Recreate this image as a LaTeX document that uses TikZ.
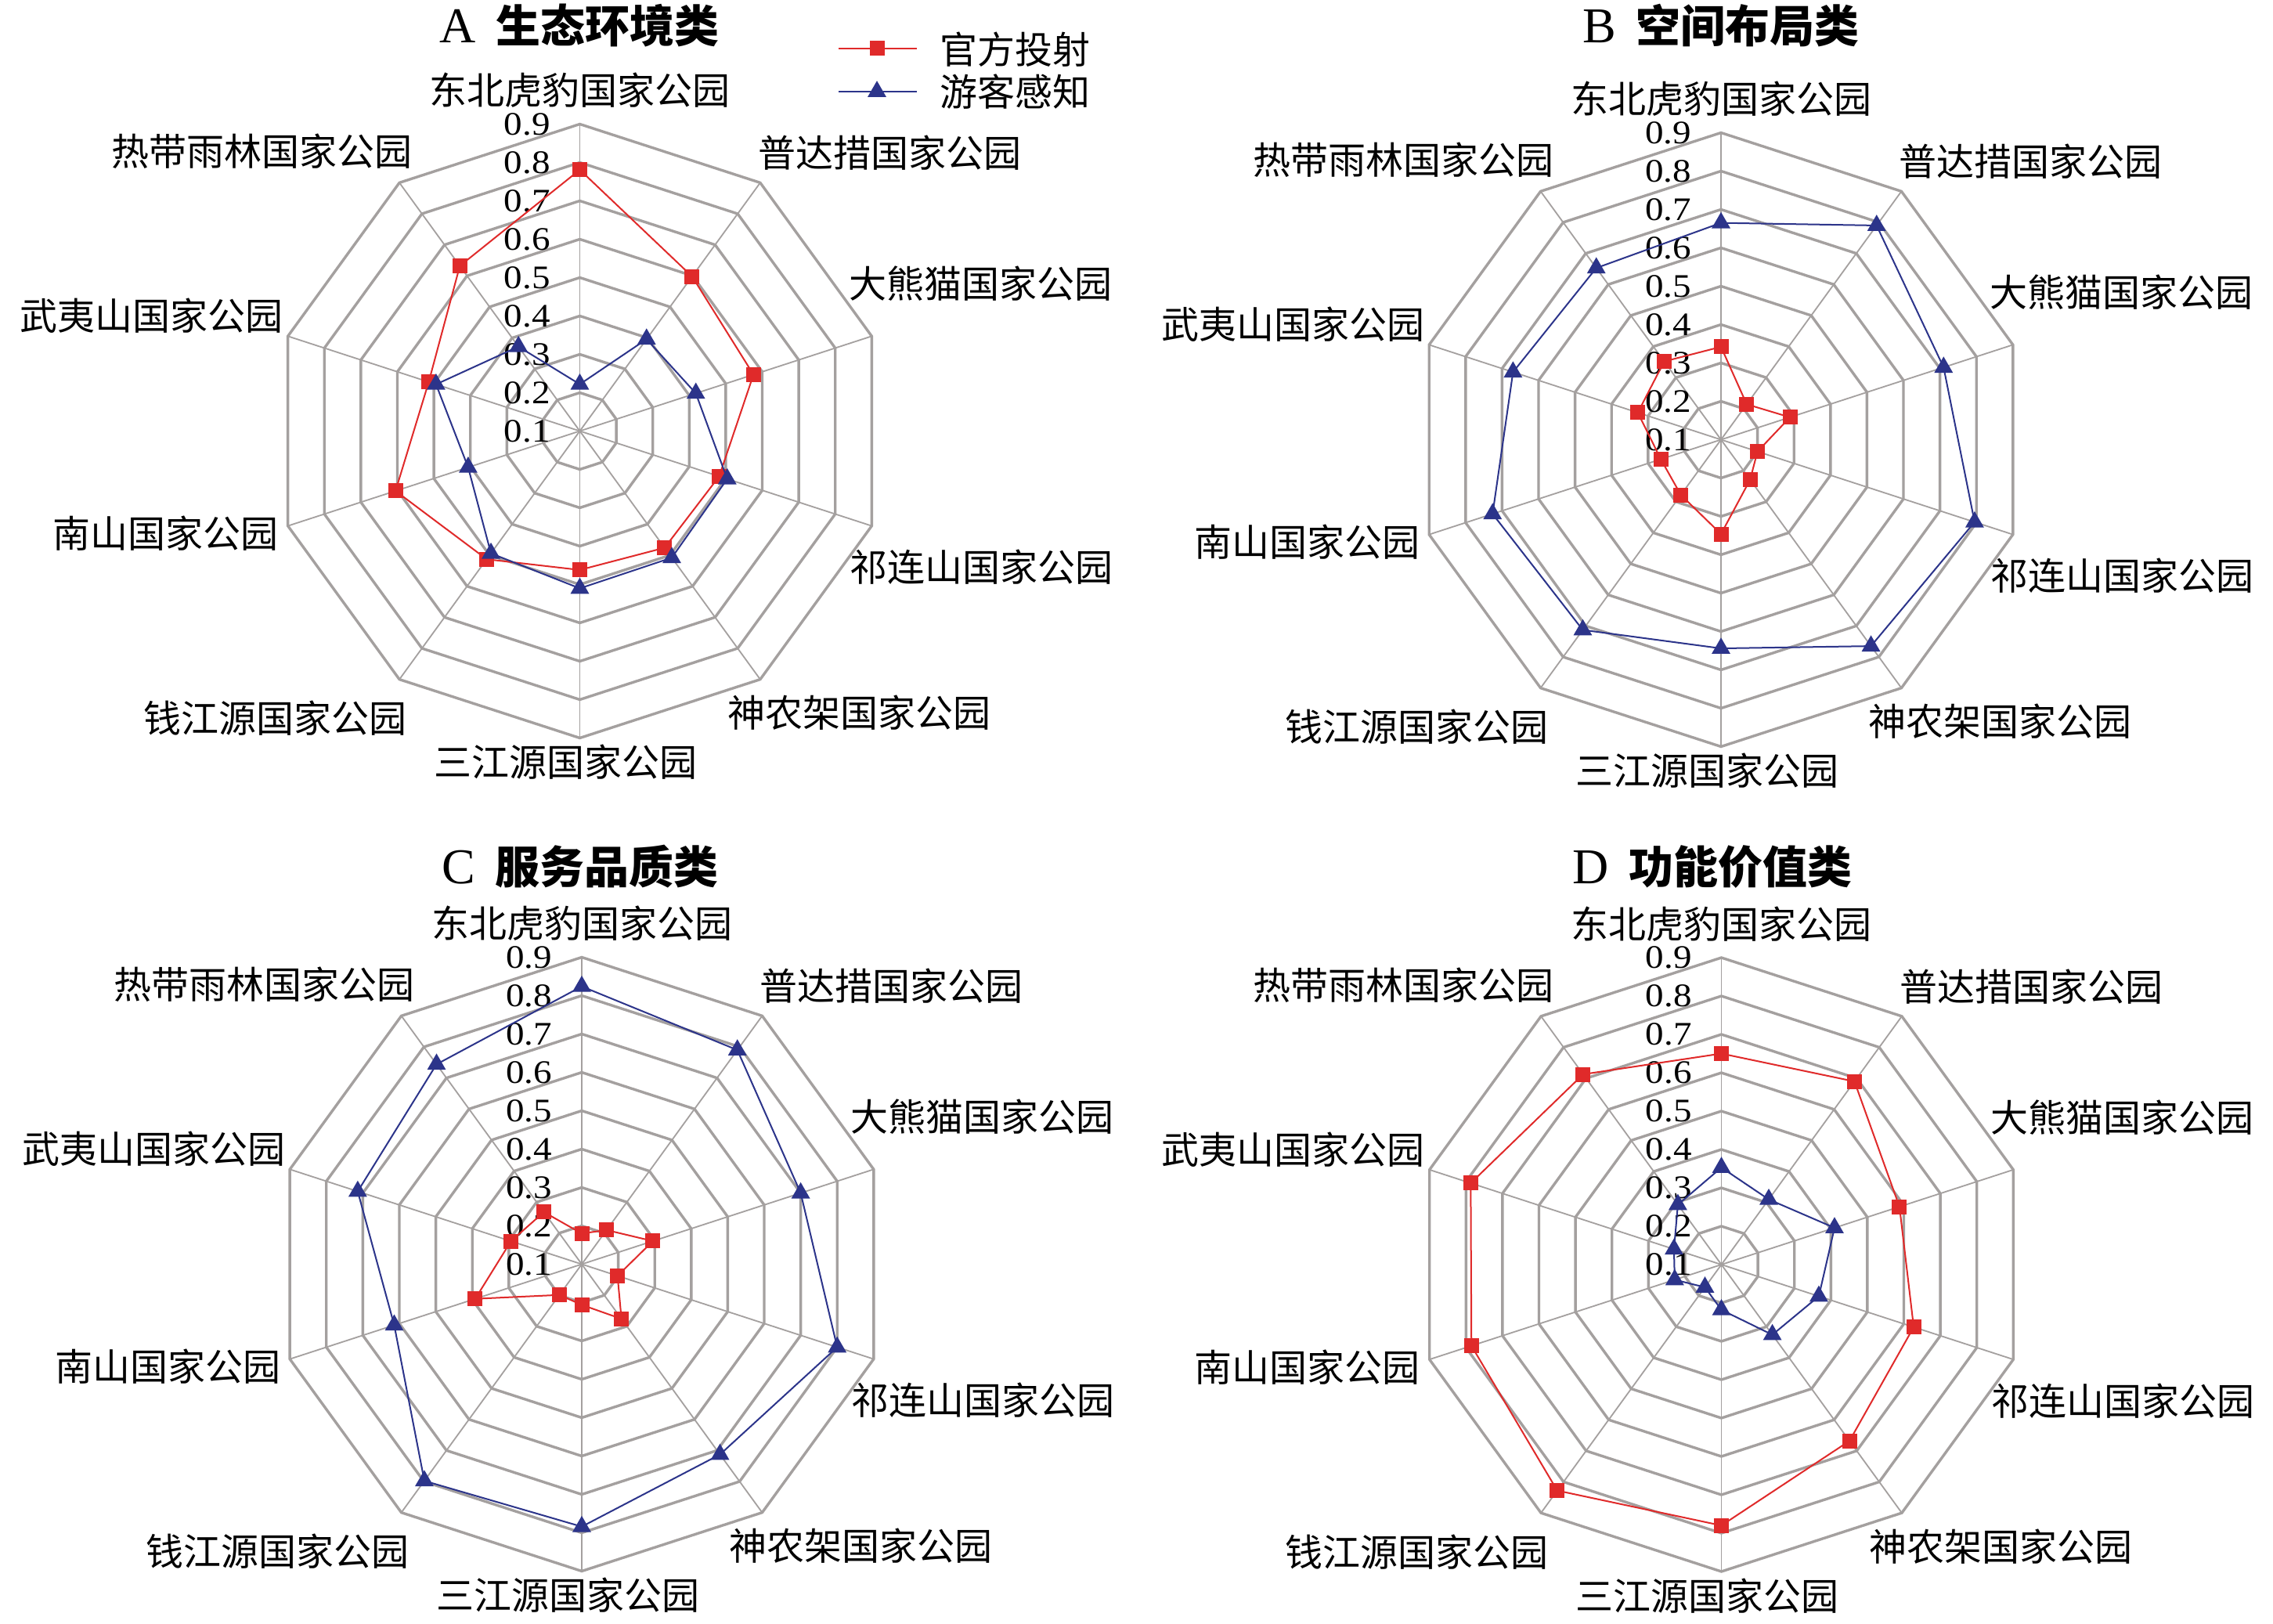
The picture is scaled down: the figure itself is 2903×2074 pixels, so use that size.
\documentclass[tikz,border=0pt]{standalone}
\usepackage{fontspec}
\setmainfont{Liberation Serif}
\newfontfamily\numfont[FakeStretch=1.12]{Liberation Serif}
\newfontfamily\cjk{Noto Sans CJK SC}
\usetikzlibrary{shapes.geometric}
\definecolor{gridgray}{RGB}{164,160,159}
\definecolor{serred}{RGB}{224,42,42}
\definecolor{serblue}{RGB}{44,52,138}
\tikzset{
  ringline/.style={draw=gridgray, line width=0.85pt, line join=miter},
  spokeline/.style={draw=gridgray, line width=0.45pt},
  redser/.style={draw=serred, line width=0.5pt},
  blueser/.style={draw=serblue, line width=0.5pt},
  sqmark/.style={rectangle, fill=serred, minimum size=4.75pt, inner sep=0pt},
  trimark/.style={regular polygon, regular polygon sides=3, fill=serblue, minimum size=6.9pt, inner sep=0pt},
  ticklab/.style={anchor=east, inner sep=0pt, font=\numfont\fontsize{10.5}{12}\selectfont},
  axlab/.style={inner sep=0pt, font=\cjk\fontsize{12}{14}\selectfont},
  titlelab/.style={inner sep=0pt},
}
\newcommand\titletext[2]{{\fontsize{16}{18}\selectfont #1}\hspace{6.5pt}{\cjk\bfseries\fontsize{14.25}{17}\selectfont #2}}
% #1 name, #2 cx, #3 cy, #4 red values, #5 blue values
\newcommand\radarchart[5]{%
  \begin{scope}[shift={(#2,#3)}]
    \foreach \k in {0,...,9} \draw[spokeline] (0,0) -- (36*\k-90:392);
    \foreach \i in {1,...,8} \draw[ringline] (-90:{49*\i}) \foreach \k in {1,...,9}{ -- (36*\k-90:{49*\i})} -- cycle;
    \foreach \i in {1,...,9} \node[ticklab] (#1t\i) at (-37,{-(\i-1)*49}) {0.\i};
    \node[axlab] (#1l0) at (0,-435) {东北虎豹国家公园};
    \node[axlab,anchor=west] (#1l1) at (227,-355) {普达措国家公园};
    \node[axlab,anchor=west] (#1l2) at (343,-188) {大熊猫国家公园};
    \node[axlab,anchor=west] (#1l3) at (344,174) {祁连山国家公园};
    \node[axlab,anchor=west] (#1l4) at (188,360) {神农架国家公园};
    \node[axlab] (#1l5) at (-18,423) {三江源国家公园};
    \node[axlab,anchor=east] (#1l6) at (-220,367) {钱江源国家公园};
    \node[axlab,anchor=east] (#1l7) at (-384,131) {南山国家公园};
    \node[axlab,anchor=east] (#1l8) at (-378,-147) {武夷山国家公园};
    \node[axlab,anchor=east] (#1l9) at (-213,-357) {热带雨林国家公园};
    \foreach \v [count=\k from 0] in {#4} \coordinate (#1r\k) at (36*\k-90:{(\v-0.1)*490});
    \foreach \v [count=\k from 0] in {#5} \coordinate (#1b\k) at (36*\k-90:{(\v-0.1)*490});
    \draw[redser] (#1r0) -- (#1r1) -- (#1r2) -- (#1r3) -- (#1r4) -- (#1r5) -- (#1r6) -- (#1r7) -- (#1r8) -- (#1r9) -- cycle;
    \foreach \k in {0,...,9} \node[sqmark] (#1rm\k) at (#1r\k) {};
    \draw[blueser] (#1b0) -- (#1b1) -- (#1b2) -- (#1b3) -- (#1b4) -- (#1b5) -- (#1b6) -- (#1b7) -- (#1b8) -- (#1b9) -- cycle;
    \foreach \k in {0,...,9} \node[trimark] (#1bm\k) at (#1b\k) {};
  \end{scope}}
\begin{document}
\begin{tikzpicture}[x=0.25pt,y=-0.25pt]
  \useasboundingbox (0,0) rectangle (2903,2074);
  \fill[white] (0,0) rectangle (2903,2074);
  % charts
  \radarchart{A}{740.5}{550.5}{0.781,0.598,0.576,0.482,0.476,0.462,0.513,0.605,0.514,0.632}{0.222,0.396,0.418,0.504,0.508,0.510,0.494,0.406,0.494,0.372}
  \radarchart{B}{2198}{561.5}{0.342,0.214,0.289,0.200,0.229,0.346,0.278,0.265,0.328,0.352}{0.665,0.790,0.710,0.795,0.765,0.644,0.713,0.726,0.670,0.653}
  \radarchart{C}{743}{1614.5}{0.180,0.210,0.295,0.198,0.276,0.206,0.199,0.392,0.294,0.268}{0.824,0.790,0.700,0.800,0.713,0.784,0.798,0.614,0.714,0.744}
  \radarchart{D}{2198.5}{1615}{0.650,0.690,0.588,0.627,0.668,0.780,0.828,0.785,0.787,0.713}{0.353,0.310,0.410,0.367,0.326,0.218,0.173,0.228,0.230,0.293}
  % titles
  \node[titlelab] (titleA) at (740,33) {\titletext{A}{生态环境类}};
  \node[titlelab] (titleB) at (2198,33) {\titletext{B}{空间布局类}};
  \node[titlelab] (titleC) at (741,1107) {\titletext{C}{服务品质类}};
  \node[titlelab] (titleD) at (2187,1107) {\titletext{D}{功能价值类}};
  % legend
  \coordinate (lgRa) at (1071,62);
  \coordinate (lgRb) at (1171,62);
  \coordinate (lgBa) at (1071,117);
  \coordinate (lgBb) at (1171,117);
  \draw[redser] (lgRa) -- (lgRb);
  \node[sqmark] (lgRm) at (1120,62) {};
  \node[axlab,anchor=west] (lgRt) at (1200,63) {官方投射};
  \draw[blueser] (lgBa) -- (lgBb);
  \node[trimark] (lgBm) at (1120,117) {};
  \node[axlab,anchor=west] (lgBt) at (1200,117) {游客感知};
\end{tikzpicture}
\end{document}
